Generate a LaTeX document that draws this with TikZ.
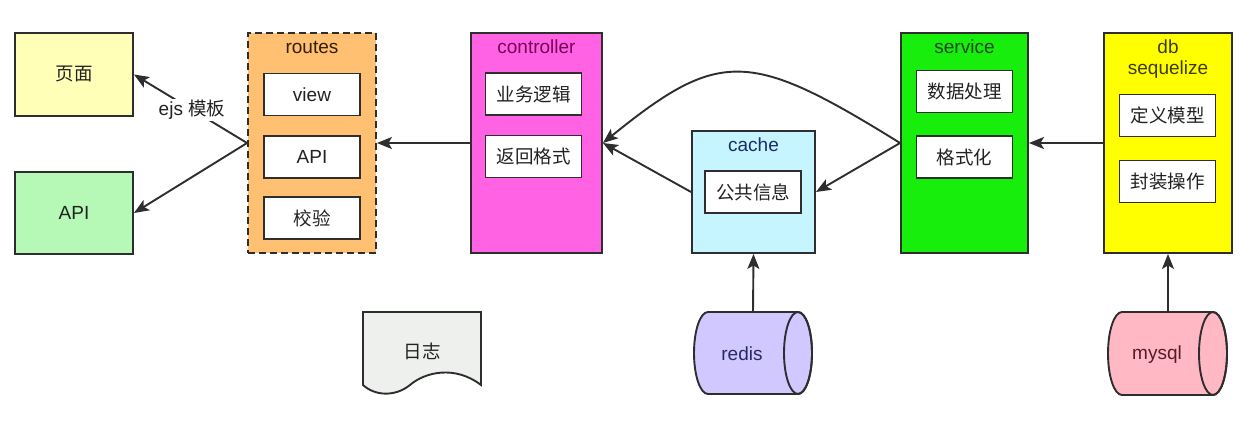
\documentclass[tikz,border=0pt]{standalone}
\usepackage{fontspec}
\setmainfont{Liberation Sans}
\newfontfamily\cjk{Noto Sans CJK SC}
\usetikzlibrary{arrows.meta}
\definecolor{linecol}{HTML}{2E2E2E}
\definecolor{txtcol}{HTML}{222222}
\definecolor{pagecol}{HTML}{FFFFB8}
\definecolor{apicol}{HTML}{B6F9B6}
\definecolor{routecol}{HTML}{FFC071}
\definecolor{ctrlcol}{HTML}{FF62E2}
\definecolor{cachecol}{HTML}{C6F4FF}
\definecolor{servcol}{HTML}{18EE0C}
\definecolor{dbcol}{HTML}{FFFF00}
\definecolor{logcol}{HTML}{EDF0ED}
\definecolor{rediscol}{HTML}{D0C8FF}
\definecolor{mysqlcol}{HTML}{FFB8C4}
\newcommand\myfs{\fontsize{18.5}{22}\selectfont}
\newcommand\mylf{\fontsize{19}{22}\selectfont}
\begin{document}
\begin{tikzpicture}[x=1pt,y=1pt,
  outer/.style={draw=linecol, line width=1.9pt},
  inbox/.style={draw=linecol, fill=white, line width=1.9pt, minimum width=96pt, minimum height=42pt, inner sep=0pt, text=txtcol},
  ttl/.style={inner sep=0pt, font=\mylf},
  arr/.style={line width=1.9pt, draw=linecol, -{Stealth[length=15pt,width=12pt,inset=3.5pt]}}]
\useasboundingbox[fill=white] (0,0) rectangle (1250,-428);

% left targets
\node[outer, fill=pagecol, minimum width=118pt, minimum height=83pt, text=txtcol, font=\cjk\myfs] (page) at (74,-74.5) {页面};
\node[outer, fill=apicol, minimum width=118pt, minimum height=82pt, text=txtcol, font=\mylf] (api) at (74,-213) {API};

% routes
\node[outer, dash pattern=on 7pt off 4pt, fill=routecol, minimum width=128pt, minimum height=220pt] (routes) at (312,-143) {};
\node[ttl, text={rgb,255:red,50;green,30;blue,10}] (routest) at (312,-47) {routes};
\node[inbox, font=\mylf] (view) at (312,-94.5) {view};
\node[inbox, font=\mylf] (rapi) at (312,-157) {API};
\node[inbox, font=\cjk\myfs] (check) at (312,-218) {校验};

% controller
\node[outer, fill=ctrlcol, minimum width=131pt, minimum height=220pt] (ctrl) at (536.5,-143) {};
\node[ttl, text={rgb,255:red,120;green,0;blue,90}] (ctrlt) at (536.5,-47) {controller};
\node[inbox, font=\cjk\myfs] (logic) at (533.5,-94) {业务逻辑};
\node[inbox, font=\cjk\myfs] (retfmt) at (533.5,-156.5) {返回格式};

% cache
\node[outer, fill=cachecol, minimum width=123pt, minimum height=122pt] (cache) at (753.5,-192) {};
\node[ttl, text={rgb,255:red,25;green,45;blue,105}] (cachet) at (753.5,-145) {cache};
\node[inbox, font=\cjk\myfs] (pub) at (753,-192) {公共信息};

% service
\node[outer, fill=servcol, minimum width=127pt, minimum height=220pt] (serv) at (964.5,-143) {};
\node[ttl, text={rgb,255:red,20;green,70;blue,20}] (servt) at (964.5,-47) {service};
\node[inbox, font=\cjk\myfs] (proc) at (964.5,-91.5) {数据处理};
\node[inbox, font=\cjk\myfs] (fmtz) at (964.5,-157) {格式化};

% db
\node[outer, fill=dbcol, minimum width=128pt, minimum height=220pt] (db) at (1168,-143) {};
\node[ttl, text={rgb,255:red,60;green,60;blue,0}] (dbt) at (1168,-47) {db};
\node[ttl, text={rgb,255:red,60;green,60;blue,0}] (dbs) at (1168,-70) {sequelize};
\node[inbox, font=\cjk\myfs] (defm) at (1167.5,-115.5) {定义模型};
\node[inbox, font=\cjk\myfs] (pack) at (1167.5,-181.5) {封装操作};

% log document
\draw[fill=logcol, draw=linecol, line width=1.9pt] (363,-312) -- (481,-312) -- (481,-385)
  .. controls (455,-365) and (425,-372) .. (410,-385)
  .. controls (395,-397) and (375,-396) .. (363,-385) -- cycle;
\node[inner sep=0pt, text=txtcol, font=\cjk\myfs] (log) at (422,-351) {日志};

% redis cylinder
\draw[fill=rediscol, draw=linecol, line width=1.9pt] (798,-312) -- (708,-312)
  arc[start angle=90, end angle=270, x radius=14, y radius=41] -- (798,-394)
  arc[start angle=-90, end angle=90, x radius=14, y radius=41] -- cycle;
\draw[draw=linecol, line width=1.9pt] (798,-353) ellipse[x radius=14, y radius=41];
\node[minimum width=118pt, minimum height=82pt, inner sep=0pt] (redis) at (753,-353) {};
\node[inner sep=0pt, font=\mylf, text={rgb,255:red,40;green,40;blue,100}] (redist) at (742,-354) {redis};

% mysql cylinder
\draw[fill=mysqlcol, draw=linecol, line width=1.9pt] (1213,-312) -- (1122,-312)
  arc[start angle=90, end angle=270, x radius=14, y radius=41.5] -- (1213,-395)
  arc[start angle=-90, end angle=90, x radius=14, y radius=41.5] -- cycle;
\draw[draw=linecol, line width=1.9pt] (1213,-353.5) ellipse[x radius=14, y radius=41.5];
\node[minimum width=119pt, minimum height=83pt, inner sep=0pt] (mysql) at (1168,-353.5) {};
\node[inner sep=0pt, font=\mylf, text={rgb,255:red,90;green,25;blue,40}] (mysqlt) at (1157,-355) {mysql};

% connectors
\draw[arr] (routes.west) -- (page.east);
\draw[arr] (routes.west) -- (api.east);
\node[fill=white, inner sep=1.5pt, text=txtcol, font=\mylf] (ejs) at (192,-110) {ejs {\cjk\myfs 模板}};
\draw[arr] (ctrl.west) -- (routes.east);
\draw[arr] (cache.west) -- (ctrl.east);
\draw[arr] (serv.west) -- (cache.east);
\draw[arr] (serv.west) .. controls (750,-50) and (720,-48) .. (ctrl.east);
\draw[arr] (db.west) -- (serv.east);
\draw[arr] (redis.north) -- (cache.south);
\draw[arr] (mysql.north) -- (db.south);
\end{tikzpicture}
\end{document}
